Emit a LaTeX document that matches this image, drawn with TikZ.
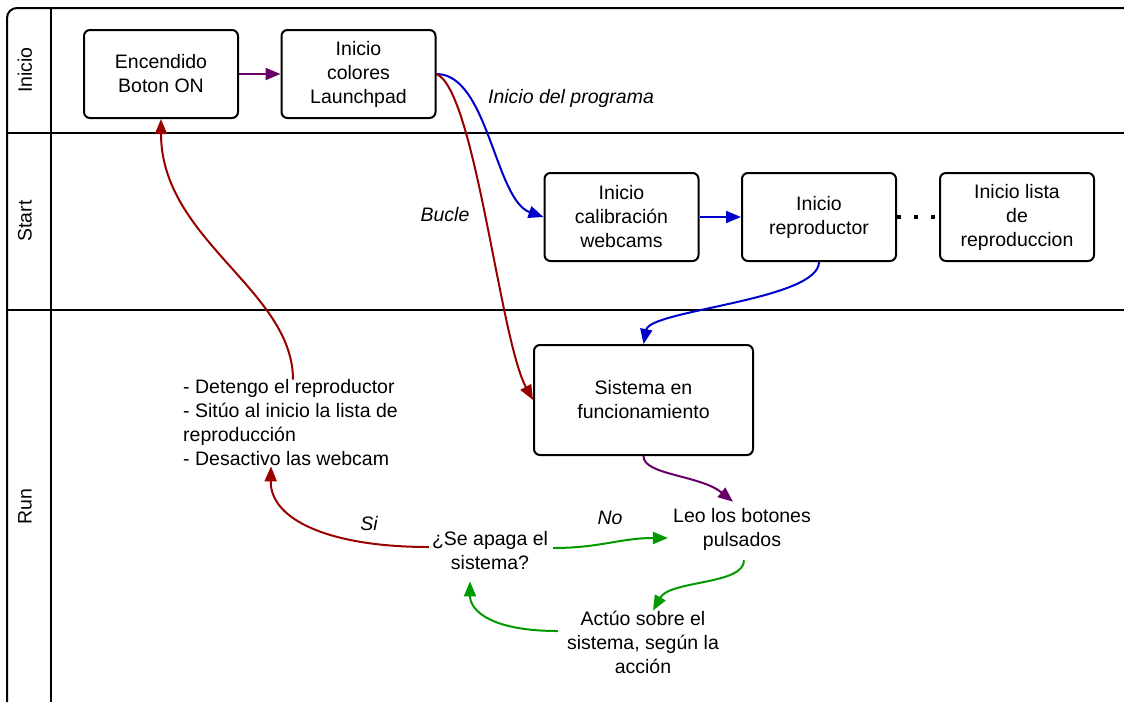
\documentclass[tikz,border=0pt]{standalone}
\usepackage{fontspec}
\setmainfont{Liberation Sans}
\usetikzlibrary{arrows.meta,calc}
\definecolor{flowpurple}{RGB}{102,0,102}
\definecolor{flowblue}{RGB}{0,0,204}
\definecolor{flowred}{RGB}{153,0,0}
\definecolor{flowgreen}{RGB}{0,153,0}

\begin{document}
\begin{tikzpicture}[x=1pt,y=-1pt,
  font=\fontsize{19.5}{24}\selectfont,
  box/.style={draw,line width=2pt,rounded corners=6pt,align=center,
    minimum width=154pt,minimum height=88pt,inner sep=0pt},
  txt/.style={align=center,inner sep=0pt},
  lbl/.style={font=\fontsize{19.5}{24}\selectfont\itshape,inner sep=0pt},
  conn/.style={line width=2pt,-{Triangle[length=15pt,width=12pt]}},
  lane/.style={rotate=90,inner sep=0pt},
  frame/.style={line width=2pt}
]
\useasboundingbox (0,0) rectangle (1124,702);

% swimlane frame
\draw[frame,rounded corners=10pt] (7,702) -- (7,8) -- (1124,8);
\draw[frame] (51,8) -- (51,702);
\draw[frame] (7,133) -- (1124,133);
\draw[frame] (7,310) -- (1124,310);

% lane titles
\node[lane] (laneInicio) at (25,70) {Inicio};
\node[lane] (laneStart) at (25,221) {Start};
\node[lane] (laneRun) at (25,507) {Run};

% process boxes
\node[box] (enc) at (161,74) {Encendido\\Boton ON};
\node[box] (col) at (358.5,74) {Inicio\\colores\\Launchpad};
\node[box] (cal) at (621.5,217) {Inicio\\calibración\\webcams};
\node[box] (rep) at (819,217) {Inicio\\reproductor};
\node[box] (lis) at (1017,217) {Inicio lista\\de\\reproduccion};
\node[box,minimum width=219pt,minimum height=110pt] (sis) at (643.5,400) {Sistema en\\funcionamiento};

% free text steps
\node[txt,align=left,anchor=west] (stop) at (183,423)
  {- Detengo el reproductor\\- Sitúo al inicio la lista de\\reproducción\\- Desactivo las webcam};
\node[txt] (ask) at (490,551) {¿Se apaga el\\sistema?};
\node[txt] (read) at (742,529) {Leo los botones\\pulsados};
\node[txt] (act) at (643,642) {Actúo sobre el\\sistema, según la\\acción};

% edge labels
\node[lbl] (lblProg) at (571,98) {Inicio del programa};
\node[lbl] (lblBucle) at (445,215) {Bucle};
\node[lbl] (lblSi) at (369,524) {Si};
\node[lbl] (lblNo) at (610,518) {No};

% connectors
\draw[conn,flowpurple] (enc) -- (col);
\draw[conn,flowblue] (col.east) .. controls (488,74) and (495,200) .. (cal.west);
\draw[conn,flowblue] (cal) -- (rep);
\draw[line width=4pt,dash pattern=on 4pt off 13pt] (rep.east) -- (lis.west);
\draw[conn,flowblue] (rep.south) .. controls (819,300) and (650,310) .. (sis.north);
\draw[conn,flowred] (col.east) .. controls (475,90) and (500,340) .. (sis.west);
\draw[conn,flowred] ($(stop.north west)+(110,0)$) .. controls (293,290) and (161,240) .. (enc.south);
\draw[conn,flowpurple] (sis.south) .. controls (643,475) and (700,475) .. ($(read.north)+(-9,-6)$);
\draw[conn,flowgreen] ($(ask.east)+(5,-3)$) .. controls (600,548) and (620,538) .. ($(read.west)+(-5,9)$);
\draw[conn,flowgreen] ($(read.south)+(2,10)$) .. controls (744,585) and (670,580) .. ($(act.north)+(10,0)$);
\draw[conn,flowgreen] ($(act.west)+(-9,-11)$) .. controls (490,631) and (470,610) .. ($(ask.south)+(-20,11)$);
\draw[conn,flowred] ($(ask.west)+(-3,-4)$) .. controls (330,547) and (270,520) .. ($(stop.south west)+(88,0)$);
\end{tikzpicture}
\end{document}
